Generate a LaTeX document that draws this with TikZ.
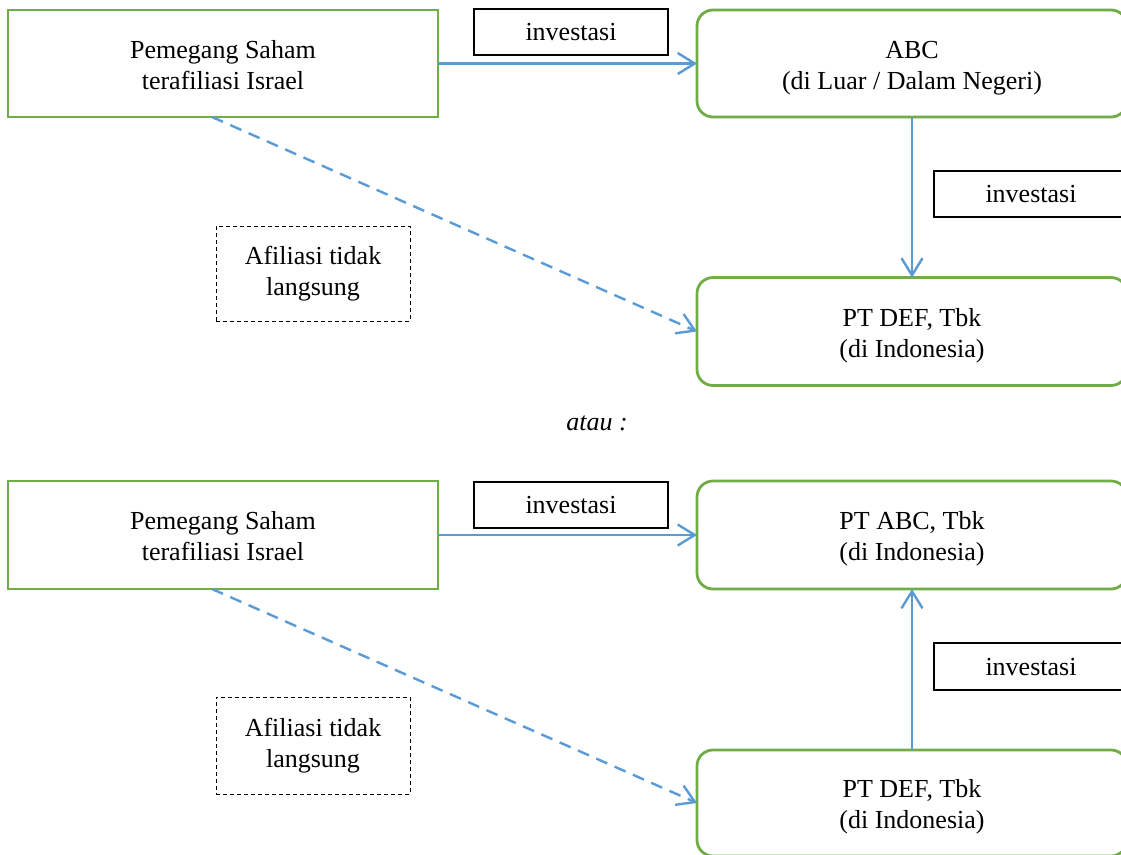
\documentclass[tikz,border=0pt]{standalone}
\usepackage{fontspec}
\setmainfont{Liberation Serif}
\usetikzlibrary{arrows.meta,calc}
\definecolor{boxgreen}{RGB}{112,173,71}
\definecolor{arrblue}{RGB}{91,155,213}
\newcommand{\lowtxt}[2]{\vbox{\vskip#1\hbox{\begin{tabular}{@{}c@{}}#2\end{tabular}}}}
\begin{document}
\begin{tikzpicture}[x=1pt,y=-1pt,
  every node/.style={outer sep=0pt, inner sep=0pt, align=center, font=\fontsize{26}{31}\selectfont},
  greenbox/.style={draw=boxgreen, line width=2.8pt, minimum width=430pt},
  roundbox/.style={greenbox, rounded corners=16pt},
  labelbox/.style={draw=black, line width=1.2pt, minimum width=194pt, minimum height=46pt},
  notebox/.style={draw=black, line width=1pt, dash pattern=on 4pt off 3pt, minimum width=194pt},
  arr/.style={draw=arrblue, line width=2.4pt, -{Straight Barb[length=17pt,width=21pt,line width=2.4pt]}},
  darr/.style={arr, dash pattern=on 12pt off 8pt}
]
\clip (0,0) rectangle (1121,854);
\fill[white] (0,0) rectangle (1121,854);

% ---------- upper scheme ----------
\node[greenbox, minimum height=107pt] (sh1) at (223,63.5) {\lowtxt{8pt}{Pemegang Saham\\terafiliasi Israel}};
\node[labelbox] (inv1) at (571,32) {\lowtxt{5pt}{investasi}};
\node[roundbox, minimum height=107pt] (abc1) at (912,63.5) {\lowtxt{8pt}{ABC\\(di Luar / Dalam Negeri)}};
\node[labelbox] (inv2) at (1031,194) {\lowtxt{5pt}{investasi}};
\node[notebox, minimum height=95pt] (aff1) at (313,273.5) {Afiliasi tidak\\langsung};
\node[roundbox, minimum height=108pt] (def1) at (912,331.5) {\lowtxt{8pt}{PT DEF, Tbk\\(di Indonesia)}};

\draw[arr] (sh1.east) -- (abc1.west);
\draw[arr] (abc1.south) -- (def1.north);
\draw[darr] ($(sh1.south)+(-11,0)$) -- (def1.west);

\node[font=\fontsize{26}{31}\selectfont\itshape] (atau) at (597,423) {atau :};

% ---------- lower scheme ----------
\node[greenbox, minimum height=108pt] (sh2) at (223,535) {\lowtxt{8pt}{Pemegang Saham\\terafiliasi Israel}};
\node[labelbox] (inv3) at (571,505) {\lowtxt{5pt}{investasi}};
\node[roundbox, minimum height=108pt] (abc2) at (912,535) {\lowtxt{8pt}{PT ABC, Tbk\\(di Indonesia)}};
\node[labelbox, minimum height=47pt] (inv4) at (1031,666.5) {\lowtxt{5pt}{investasi}};
\node[notebox, minimum height=97pt] (aff2) at (313,745.5) {Afiliasi tidak\\langsung};
\node[roundbox, minimum height=106pt] (def2) at (912,803) {\lowtxt{8pt}{PT DEF, Tbk\\(di Indonesia)}};

\draw[arr] (sh2.east) -- (abc2.west);
\draw[arr] (def2.north) -- (abc2.south);
\draw[darr] ($(sh2.south)+(-11,0)$) -- (def2.west);
\end{tikzpicture}
\end{document}
